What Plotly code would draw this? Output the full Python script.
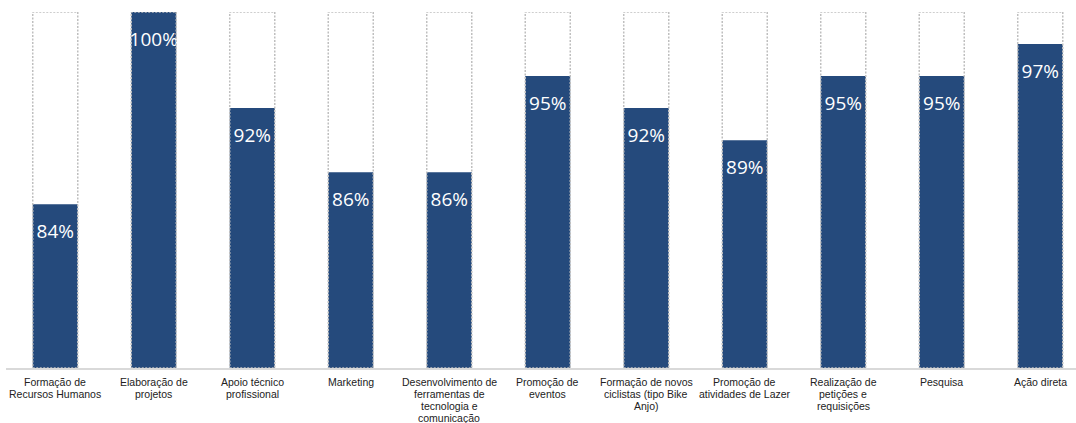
import plotly.graph_objects as go

categories = [
    "Formação de<br>Recursos Humanos",
    "Elaboração de<br>projetos",
    "Apoio técnico<br>profissional",
    "Marketing",
    "Desenvolvimento de<br>ferramentas de<br>tecnologia e<br>comunicação",
    "Promoção de<br>eventos",
    "Formação de novos<br>ciclistas (tipo Bike<br>Anjo)",
    "Promoção de<br>atividades de Lazer",
    "Realização de<br>petições e<br>requisições",
    "Pesquisa",
    "Ação direta",
]
values = [83.8, 100.0, 91.9, 86.5, 86.5, 94.6, 91.9, 89.2, 94.6, 94.6, 97.3]
labels = ["84%", "100%", "92%", "86%", "86%", "95%", "92%", "89%", "95%", "95%", "97%"]

y_min, y_max = 70, 100
bar_w = 0.457
label_drop = 2.45
blue = "#254A7C"
xs = list(range(len(categories)))

fig = go.Figure()
fig.add_trace(go.Bar(
    x=xs, y=[v - y_min for v in values], base=y_min,
    width=bar_w, marker=dict(color=blue, line=dict(width=0)),
    hoverinfo="skip", showlegend=False,
))
fig.add_trace(go.Scatter(
    x=xs, y=[v - label_drop for v in values],
    mode="text", text=labels,
    textfont=dict(family="Open Sans", size=19, color="white"),
    hoverinfo="skip", showlegend=False, cliponaxis=False,
))
for i in xs:
    fig.add_shape(type="rect", xref="x", yref="y",
                  x0=i - bar_w / 2, x1=i + bar_w / 2, y0=y_min, y1=y_max,
                  line=dict(color="#BFBFBF", width=1.5, dash="2px,1.5px"),
                  fillcolor="rgba(0,0,0,0)", layer="above")

# category labels, one annotation per text line for tight line spacing
for i, cat in zip(xs, categories):
    for j, line in enumerate(cat.split("<br>")):
        fig.add_annotation(x=i, xref="x", y=0, yref="paper", text=line,
                           showarrow=False, yanchor="middle", xanchor="center",
                           yshift=-(13.5 + 12 * j),
                           font=dict(family="Liberation Sans", size=10.5, color="#222222"))

fig.update_layout(
    width=1076, height=423,
    margin=dict(l=6, r=0, t=12, b=55, autoexpand=False),
    plot_bgcolor="white", paper_bgcolor="white",
    xaxis=dict(
        range=[-0.5, -0.5 + 1070 / 98.5], automargin=False,
        showticklabels=False, showgrid=False, zeroline=False,
        showline=True, linecolor="#D9D9D9", linewidth=2, ticks="",
    ),
    yaxis=dict(range=[y_min, y_max], visible=False, showgrid=False, zeroline=False,
               automargin=False),
)
fig.write_html("out.html", config={"displayModeBar": False},
               post_script="document.body.style.margin='0';document.body.style.overflow='hidden';")
